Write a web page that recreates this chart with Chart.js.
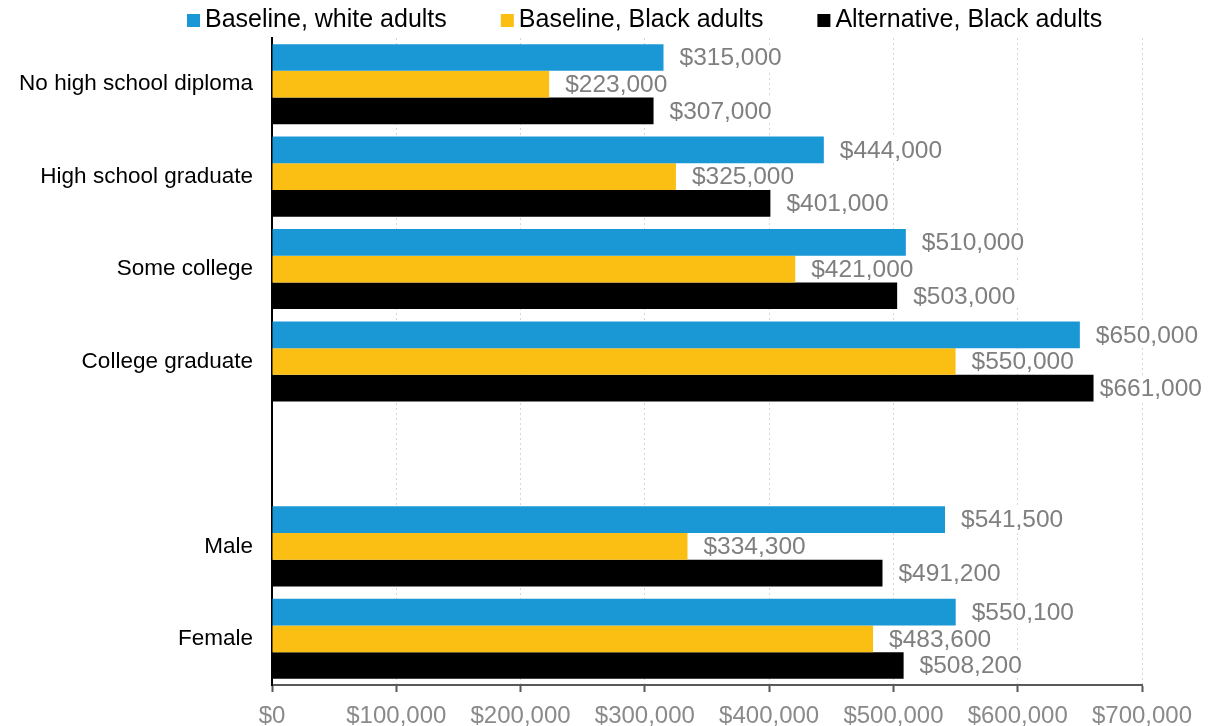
<!DOCTYPE html>
<html>
<head>
<meta charset="utf-8">
<script src="https://cdn.jsdelivr.net/npm/chart.js@4"></script>
<style>
  html, body { margin: 0; padding: 0; background: #fff; }
  #wrap { width: 1224px; height: 726px; position: relative; }
</style>
</head>
<body>
<div id="wrap"><canvas id="earningsChart" width="1224" height="726"></canvas></div>
<script>
const categories = ["No high school diploma", "High school graduate", "Some college", "College graduate", "", "Male", "Female"];
const seriesNames = ["Baseline, white adults", "Baseline, Black adults", "Alternative, Black adults"];
const whiteBaseline = [315000, 444000, 510000, 650000, null, 541500, 550100];
const blackBaseline = [223000, 325000, 421000, 550000, null, 334300, 483600];
const blackAlternative = [307000, 401000, 503000, 661000, null, 491200, 508200];
const xTicks = [0, 100000, 200000, 300000, 400000, 500000, 600000, 700000];
const colors = ["#1a98d5", "#fbbf14", "#000000"];

const FONT = "'Liberation Sans', Arial, sans-serif";

function money(v) {
  return "$" + v.toLocaleString("en-US");
}

// legend row across the top
const topLegend = {
  id: "topLegend",
  afterDraw(chart) {
    const ctx = chart.ctx;
    ctx.save();
    ctx.font = "25px " + FONT;
    ctx.textBaseline = "middle";
    ctx.textAlign = "left";
    let x = 187;
    seriesNames.forEach((name, i) => {
      ctx.fillStyle = colors[i];
      ctx.fillRect(x, 14, 13, 13);
      ctx.fillStyle = "#000";
      ctx.fillText(name, x + 18, 20);
      x += 18 + ctx.measureText(name).width + 54;
    });
    ctx.restore();
  }
};

// value labels right of each bar, on a white box
const valueLabels = {
  id: "valueLabels",
  afterDatasetsDraw(chart) {
    const ctx = chart.ctx;
    ctx.save();
    ctx.font = "24.5px " + FONT;
    ctx.textBaseline = "middle";
    ctx.textAlign = "left";
    chart.data.datasets.forEach((ds, di) => {
      chart.getDatasetMeta(di).data.forEach((bar, i) => {
        const v = ds.data[i];
        if (v == null) return;
        const text = money(v);
        const w = ctx.measureText(text).width;
        let x = bar.x + 16;
        if (x + w > 1202) x = 1202 - w;
        ctx.fillStyle = "#fff";
        ctx.fillRect(x - 3, bar.y - bar.height / 2 + 1, w + 6, bar.height - 2);
        ctx.fillStyle = "#7f7f7f";
        ctx.fillText(text, x, bar.y + 1);
      });
    });
    ctx.restore();
  }
};

new Chart(document.getElementById("earningsChart"), {
  type: "bar",
  data: {
    labels: categories,
    datasets: [
      { label: seriesNames[0], data: whiteBaseline, backgroundColor: colors[0] },
      { label: seriesNames[1], data: blackBaseline, backgroundColor: colors[1] },
      { label: seriesNames[2], data: blackAlternative, backgroundColor: colors[2] }
    ]
  },
  options: {
    indexAxis: "y",
    responsive: false,
    animation: false,
    devicePixelRatio: 1,
    categoryPercentage: 0.866,
    barPercentage: 1,
    layout: { padding: { top: 38, right: 82, left: 0, bottom: 0 } },
    plugins: {
      legend: { display: false },
      tooltip: { enabled: false }
    },
    scales: {
      x: {
        min: 0,
        max: 700000,
        afterBuildTicks: s => { s.ticks = xTicks.map(v => ({ value: v })); },
        afterFit: s => { s.height = 41; },
        grid: {
          color: "#d6d6d6",
          tickColor: "#595959",
          tickBorderDash: [],
          tickLength: 7,
          tickWidth: 2
        },
        border: { display: true, color: "#595959", width: 2, dash: [2, 3] },
        ticks: {
          color: "#8a8a8a",
          padding: 10,
          maxRotation: 0,
          font: { family: FONT, size: 24 },
          callback: v => money(v)
        }
      },
      y: {
        afterFit: s => { s.width = 272; },
        grid: { display: false, drawTicks: false },
        border: { display: true, color: "#000", width: 2 },
        ticks: {
          color: "#000",
          padding: 19,
          font: { family: FONT, size: 22.5 }
        }
      }
    }
  },
  plugins: [topLegend, valueLabels]
});
</script>
</body>
</html>
